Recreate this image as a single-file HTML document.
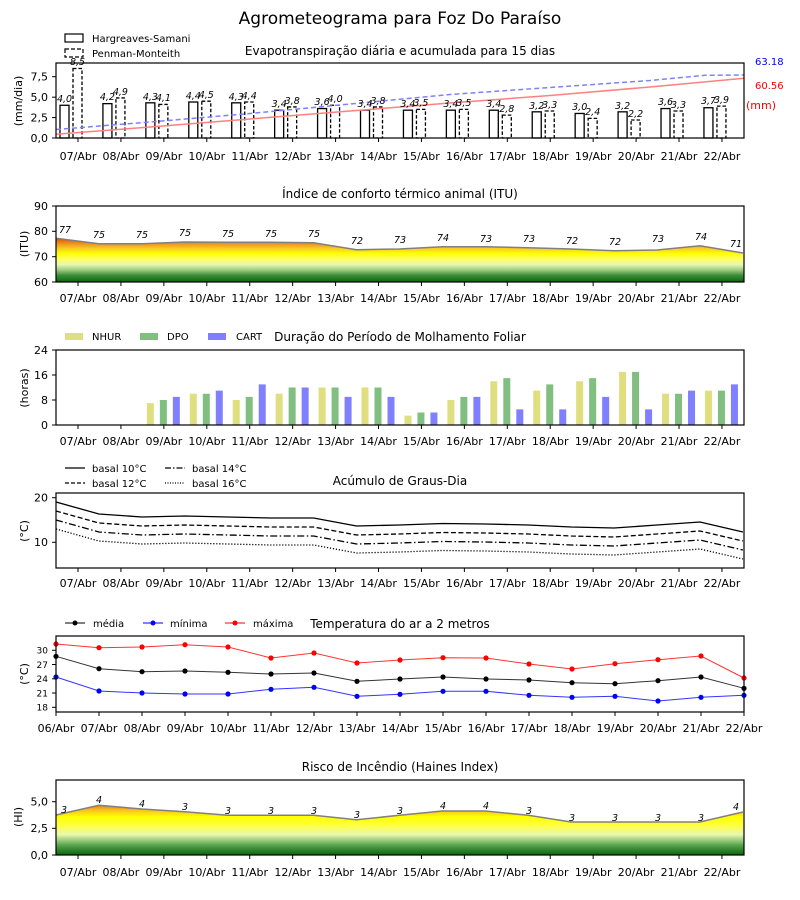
<!DOCTYPE html>
<html><head><meta charset="utf-8">
<style>
html,body{margin:0;padding:0;background:#fff;}
svg{display:block;font-family:"DejaVu Sans","Liberation Sans",sans-serif;}
.tk{font-size:11px;fill:#000;}
.tt{font-size:12px;fill:#000;}
.vl{font-size:9.5px;font-style:italic;fill:#000;}
.lg{font-size:10px;fill:#000;}
</style></head><body>
<svg id="s" width="800" height="900" viewBox="0 0 800 900" xmlns="http://www.w3.org/2000/svg">
<defs>
<linearGradient id="gITU" gradientUnits="userSpaceOnUse" x1="0" y1="282" x2="0" y2="236">
<stop offset="0" stop-color="#0a640a"/><stop offset="0.15" stop-color="#3f8f3a"/><stop offset="0.26" stop-color="#9ccc80"/><stop offset="0.38" stop-color="#e8f8b0"/><stop offset="0.5" stop-color="#ffff60"/><stop offset="0.62" stop-color="#ffff00"/><stop offset="0.72" stop-color="#f8d020"/><stop offset="0.82" stop-color="#f09a20"/><stop offset="0.9" stop-color="#e07010"/><stop offset="1" stop-color="#cc1000"/>
</linearGradient>
<linearGradient id="gHI" gradientUnits="userSpaceOnUse" x1="0" y1="855" x2="0" y2="804">
<stop offset="0" stop-color="#0a640a"/><stop offset="0.18" stop-color="#50a048"/><stop offset="0.4" stop-color="#e8f8b0"/><stop offset="0.58" stop-color="#ffff40"/><stop offset="0.75" stop-color="#ffff00"/><stop offset="0.88" stop-color="#f8c020"/><stop offset="1" stop-color="#e07010"/>
</linearGradient>
</defs>
<text x="400" y="24" text-anchor="middle" style="font-size:17px">Agrometeograma para Foz Do Paraíso</text>

<!-- Panel 1 -->
<text class="tt" x="400" y="55" text-anchor="middle">Evapotranspiração diária e acumulada para 15 dias</text>
<rect x="65" y="34" width="18" height="8" fill="none" stroke="#000" stroke-width="1.2"/>
<text class="lg" x="92" y="42">Hargreaves-Samani</text>
<rect x="65" y="49" width="18" height="8" fill="none" stroke="#000" stroke-width="1.2" stroke-dasharray="4,2"/>
<text class="lg" x="92" y="57">Penman-Monteith</text>
<g id="p1"></g>
<text class="vl" x="64.5" y="102" text-anchor="middle">4,0</text><text class="vl" x="77.5" y="65" text-anchor="middle">8,5</text>
<text class="vl" x="107.4" y="100" text-anchor="middle">4,2</text><text class="vl" x="120.4" y="95" text-anchor="middle">4,9</text>
<text class="vl" x="150.4" y="100" text-anchor="middle">4,3</text><text class="vl" x="163.4" y="101" text-anchor="middle">4,1</text>
<text class="vl" x="193.3" y="99" text-anchor="middle">4,4</text><text class="vl" x="206.3" y="98" text-anchor="middle">4,5</text>
<text class="vl" x="236.2" y="100" text-anchor="middle">4,3</text><text class="vl" x="249.2" y="99" text-anchor="middle">4,4</text>
<text class="vl" x="279.2" y="107" text-anchor="middle">3,4</text><text class="vl" x="292.2" y="104" text-anchor="middle">3,8</text>
<text class="vl" x="322.1" y="105" text-anchor="middle">3,6</text><text class="vl" x="335.1" y="102" text-anchor="middle">4,0</text>
<text class="vl" x="365" y="107" text-anchor="middle">3,4</text><text class="vl" x="378" y="104" text-anchor="middle">3,8</text>
<text class="vl" x="407.9" y="107" text-anchor="middle">3,4</text><text class="vl" x="420.9" y="106" text-anchor="middle">3,5</text>
<text class="vl" x="450.9" y="107" text-anchor="middle">3,4</text><text class="vl" x="463.9" y="106" text-anchor="middle">3,5</text>
<text class="vl" x="493.8" y="107" text-anchor="middle">3,4</text><text class="vl" x="506.8" y="112" text-anchor="middle">2,8</text>
<text class="vl" x="536.7" y="109" text-anchor="middle">3,2</text><text class="vl" x="549.7" y="108" text-anchor="middle">3,3</text>
<text class="vl" x="579.7" y="110" text-anchor="middle">3,0</text><text class="vl" x="592.7" y="115" text-anchor="middle">2,4</text>
<text class="vl" x="622.6" y="109" text-anchor="middle">3,2</text><text class="vl" x="635.6" y="117" text-anchor="middle">2,2</text>
<text class="vl" x="665.5" y="105" text-anchor="middle">3,6</text><text class="vl" x="678.5" y="108" text-anchor="middle">3,3</text>
<text class="vl" x="708.5" y="104" text-anchor="middle">3,7</text><text class="vl" x="721.5" y="103" text-anchor="middle">3,9</text>
<text x="755" y="65" style="font-size:10px;fill:#0000ff">63.18</text>
<text x="755" y="89" style="font-size:10px;fill:#ff0000">60.56</text>
<text x="746" y="109" style="font-size:11px;fill:#ff0000">(mm)</text>
<text class="tk" x="48" y="80.5" text-anchor="end">7,5</text>
<text class="tk" x="48" y="101" text-anchor="end">5,0</text>
<text class="tk" x="48" y="121.5" text-anchor="end">2,5</text>
<text class="tk" x="48" y="142" text-anchor="end">0,0</text>
<text class="tk" transform="translate(22,101) rotate(-90)" text-anchor="middle">(mm/dia)</text>

<!-- Panel 2 -->
<text class="tt" x="400" y="198" text-anchor="middle">Índice de conforto térmico animal (ITU)</text>
<g id="p2"></g>
<text class="tk" x="48" y="210" text-anchor="end">90</text>
<text class="tk" x="48" y="235" text-anchor="end">80</text>
<text class="tk" x="48" y="260.5" text-anchor="end">70</text>
<text class="tk" x="48" y="286" text-anchor="end">60</text>
<text class="tk" transform="translate(28,244) rotate(-90)" text-anchor="middle">(ITU)</text>
<text class="vl" x="65" y="233" text-anchor="middle">77</text>
<text class="vl" x="99" y="238" text-anchor="middle">75</text>
<text class="vl" x="142" y="238" text-anchor="middle">75</text>
<text class="vl" x="185" y="236" text-anchor="middle">75</text>
<text class="vl" x="228" y="237" text-anchor="middle">75</text>
<text class="vl" x="271" y="237" text-anchor="middle">75</text>
<text class="vl" x="314" y="237" text-anchor="middle">75</text>
<text class="vl" x="357" y="244" text-anchor="middle">72</text>
<text class="vl" x="400" y="243" text-anchor="middle">73</text>
<text class="vl" x="443" y="241" text-anchor="middle">74</text>
<text class="vl" x="486" y="242" text-anchor="middle">73</text>
<text class="vl" x="529" y="242" text-anchor="middle">73</text>
<text class="vl" x="572" y="244" text-anchor="middle">72</text>
<text class="vl" x="615" y="245" text-anchor="middle">72</text>
<text class="vl" x="658" y="242" text-anchor="middle">73</text>
<text class="vl" x="701" y="240" text-anchor="middle">74</text>
<text class="vl" x="736" y="247" text-anchor="middle">71</text>

<!-- Panel 3 -->
<rect x="65" y="333" width="18" height="7" fill="#dfdf80"/><text class="lg" x="92" y="340">NHUR</text>
<rect x="140" y="333" width="18" height="7" fill="#80bf80"/><text class="lg" x="167" y="340">DPO</text>
<rect x="208" y="333" width="18" height="7" fill="#8080ff"/><text class="lg" x="236" y="340">CART</text>
<text class="tt" x="400" y="341" text-anchor="middle">Duração do Período de Molhamento Foliar</text>
<g id="p3"></g>
<text class="tk" x="48" y="354" text-anchor="end">24</text>
<text class="tk" x="48" y="379" text-anchor="end">16</text>
<text class="tk" x="48" y="404" text-anchor="end">8</text>
<text class="tk" x="48" y="429" text-anchor="end">0</text>
<text class="tk" transform="translate(28,388) rotate(-90)" text-anchor="middle">(horas)</text>

<!-- Panel 4 -->
<line x1="65" y1="468" x2="85" y2="468" stroke="#000" stroke-width="1.3"/><text class="lg" x="92" y="472">basal 10°C</text>
<line x1="65" y1="483" x2="85" y2="483" stroke="#000" stroke-width="1.3" stroke-dasharray="4,2"/><text class="lg" x="92" y="487">basal 12°C</text>
<line x1="165" y1="468" x2="185" y2="468" stroke="#000" stroke-width="1.3" stroke-dasharray="6,2,1.5,2"/><text class="lg" x="192" y="472">basal 14°C</text>
<line x1="165" y1="483" x2="185" y2="483" stroke="#000" stroke-width="1.3" stroke-dasharray="1,1.5"/><text class="lg" x="192" y="487">basal 16°C</text>
<text class="tt" x="400" y="485" text-anchor="middle">Acúmulo de Graus-Dia</text>
<g id="p4"></g>
<text class="tk" x="48" y="501.5" text-anchor="end">20</text>
<text class="tk" x="48" y="546" text-anchor="end">10</text>
<text class="tk" transform="translate(28,531) rotate(-90)" text-anchor="middle">(°C)</text>

<!-- Panel 5 -->
<line x1="65" y1="623" x2="85" y2="623" stroke="#000"/><circle cx="75" cy="623" r="2.5"/><text class="lg" x="93" y="627">média</text>
<line x1="143" y1="623" x2="163" y2="623" stroke="#0000ff"/><circle cx="153" cy="623" r="2.5" fill="#0000ff"/><text class="lg" x="170" y="627">mínima</text>
<line x1="225" y1="623" x2="245" y2="623" stroke="#ff0000"/><circle cx="235" cy="623" r="2.5" fill="#ff0000"/><text class="lg" x="253" y="627">máxima</text>
<text class="tt" x="400" y="628" text-anchor="middle">Temperatura do ar a 2 metros</text>
<g id="p5"></g>
<text x="48" y="653.5" text-anchor="end" style="font-size:9px">30</text>
<text x="48" y="667.8" text-anchor="end" style="font-size:9px">27</text>
<text x="48" y="682" text-anchor="end" style="font-size:9px">24</text>
<text x="48" y="696.3" text-anchor="end" style="font-size:9px">21</text>
<text x="48" y="710.5" text-anchor="end" style="font-size:9px">18</text>
<text class="tk" transform="translate(28,674) rotate(-90)" text-anchor="middle">(°C)</text>
<g class="tk" text-anchor="middle">
<text x="56" y="732">06/Abr</text><text x="99" y="732">07/Abr</text><text x="142" y="732">08/Abr</text><text x="185" y="732">09/Abr</text><text x="228" y="732">10/Abr</text><text x="271" y="732">11/Abr</text><text x="314" y="732">12/Abr</text><text x="357" y="732">13/Abr</text><text x="400" y="732">14/Abr</text><text x="443" y="732">15/Abr</text><text x="486" y="732">16/Abr</text><text x="529" y="732">17/Abr</text><text x="572" y="732">18/Abr</text><text x="615" y="732">19/Abr</text><text x="658" y="732">20/Abr</text><text x="701" y="732">21/Abr</text><text x="744" y="732">22/Abr</text>
</g>

<!-- Panel 6 -->
<text class="tt" x="400" y="771" text-anchor="middle">Risco de Incêndio (Haines Index)</text>
<g id="p6"></g>
<text class="tk" x="48" y="805.5" text-anchor="end">5,0</text>
<text class="tk" x="48" y="832" text-anchor="end">2,5</text>
<text class="tk" x="48" y="859" text-anchor="end">0,0</text>
<text class="tk" transform="translate(22,817) rotate(-90)" text-anchor="middle">(HI)</text>
<text class="vl" x="64" y="813" text-anchor="middle">3</text>
<text class="vl" x="99" y="803" text-anchor="middle">4</text>
<text class="vl" x="142" y="807" text-anchor="middle">4</text>
<text class="vl" x="185" y="810" text-anchor="middle">3</text>
<text class="vl" x="228" y="814" text-anchor="middle">3</text>
<text class="vl" x="271" y="814" text-anchor="middle">3</text>
<text class="vl" x="314" y="814" text-anchor="middle">3</text>
<text class="vl" x="357" y="818" text-anchor="middle">3</text>
<text class="vl" x="400" y="814" text-anchor="middle">3</text>
<text class="vl" x="443" y="809" text-anchor="middle">4</text>
<text class="vl" x="486" y="809" text-anchor="middle">4</text>
<text class="vl" x="529" y="814" text-anchor="middle">3</text>
<text class="vl" x="572" y="821" text-anchor="middle">3</text>
<text class="vl" x="615" y="821" text-anchor="middle">3</text>
<text class="vl" x="658" y="821" text-anchor="middle">3</text>
<text class="vl" x="701" y="821" text-anchor="middle">3</text>
<text class="vl" x="736" y="810" text-anchor="middle">4</text>

<!-- x tick labels (07..22) for panels 1,2,3,4,6 -->
<g class="tk" text-anchor="middle">
<text x="78" y="160">07/Abr</text><text x="120.9" y="160">08/Abr</text><text x="163.9" y="160">09/Abr</text><text x="206.8" y="160">10/Abr</text><text x="249.7" y="160">11/Abr</text><text x="292.7" y="160">12/Abr</text><text x="335.6" y="160">13/Abr</text><text x="378.5" y="160">14/Abr</text><text x="421.4" y="160">15/Abr</text><text x="464.4" y="160">16/Abr</text><text x="507.3" y="160">17/Abr</text><text x="550.2" y="160">18/Abr</text><text x="593.2" y="160">19/Abr</text><text x="636.1" y="160">20/Abr</text><text x="679" y="160">21/Abr</text><text x="722" y="160">22/Abr</text>
</g>
<g class="tk" text-anchor="middle">
<text x="78" y="302">07/Abr</text><text x="120.9" y="302">08/Abr</text><text x="163.9" y="302">09/Abr</text><text x="206.8" y="302">10/Abr</text><text x="249.7" y="302">11/Abr</text><text x="292.7" y="302">12/Abr</text><text x="335.6" y="302">13/Abr</text><text x="378.5" y="302">14/Abr</text><text x="421.4" y="302">15/Abr</text><text x="464.4" y="302">16/Abr</text><text x="507.3" y="302">17/Abr</text><text x="550.2" y="302">18/Abr</text><text x="593.2" y="302">19/Abr</text><text x="636.1" y="302">20/Abr</text><text x="679" y="302">21/Abr</text><text x="722" y="302">22/Abr</text>
</g>
<g class="tk" text-anchor="middle">
<text x="78" y="445">07/Abr</text><text x="120.9" y="445">08/Abr</text><text x="163.9" y="445">09/Abr</text><text x="206.8" y="445">10/Abr</text><text x="249.7" y="445">11/Abr</text><text x="292.7" y="445">12/Abr</text><text x="335.6" y="445">13/Abr</text><text x="378.5" y="445">14/Abr</text><text x="421.4" y="445">15/Abr</text><text x="464.4" y="445">16/Abr</text><text x="507.3" y="445">17/Abr</text><text x="550.2" y="445">18/Abr</text><text x="593.2" y="445">19/Abr</text><text x="636.1" y="445">20/Abr</text><text x="679" y="445">21/Abr</text><text x="722" y="445">22/Abr</text>
</g>
<g class="tk" text-anchor="middle">
<text x="78" y="587">07/Abr</text><text x="120.9" y="587">08/Abr</text><text x="163.9" y="587">09/Abr</text><text x="206.8" y="587">10/Abr</text><text x="249.7" y="587">11/Abr</text><text x="292.7" y="587">12/Abr</text><text x="335.6" y="587">13/Abr</text><text x="378.5" y="587">14/Abr</text><text x="421.4" y="587">15/Abr</text><text x="464.4" y="587">16/Abr</text><text x="507.3" y="587">17/Abr</text><text x="550.2" y="587">18/Abr</text><text x="593.2" y="587">19/Abr</text><text x="636.1" y="587">20/Abr</text><text x="679" y="587">21/Abr</text><text x="722" y="587">22/Abr</text>
</g>
<g class="tk" text-anchor="middle">
<text x="78" y="876">07/Abr</text><text x="120.9" y="876">08/Abr</text><text x="163.9" y="876">09/Abr</text><text x="206.8" y="876">10/Abr</text><text x="249.7" y="876">11/Abr</text><text x="292.7" y="876">12/Abr</text><text x="335.6" y="876">13/Abr</text><text x="378.5" y="876">14/Abr</text><text x="421.4" y="876">15/Abr</text><text x="464.4" y="876">16/Abr</text><text x="507.3" y="876">17/Abr</text><text x="550.2" y="876">18/Abr</text><text x="593.2" y="876">19/Abr</text><text x="636.1" y="876">20/Abr</text><text x="679" y="876">21/Abr</text><text x="722" y="876">22/Abr</text>
</g>
</svg>
<script>
(function(){
var NS="http://www.w3.org/2000/svg";
function el(p,t,a){var e=document.createElementNS(NS,t);for(var k in a)e.setAttribute(k,a[k]);document.getElementById(p).appendChild(e);return e;}
var T=[],K=[],T5=[];
for(var i=0;i<16;i++)T.push(78+42.93*i);
for(var k=0;k<17;k++){K.push(56+42.93*k);T5.push(56+43*k);}
function frame(p,top,bot){el(p,"rect",{x:56,y:top,width:688,height:bot-top,fill:"none",stroke:"#000","stroke-width":1.2});}
function xt(p,bot,arr){arr.forEach(function(x){el(p,"line",{x1:x,y1:bot,x2:x,y2:bot+4,stroke:"#000"});});}
function yt(p,ys){ys.forEach(function(y){el(p,"line",{x1:52,y1:y,x2:56,y2:y,stroke:"#000"});});}
function pl(p,xs,ys,a){var s=xs.map(function(x,i){return x.toFixed(1)+","+ys[i].toFixed(1);}).join(" ");a.points=s;a.fill=a.fill||"none";return el(p,"polyline",a);}
// Panel 1
var HS=[4.0,4.2,4.3,4.4,4.3,3.4,3.6,3.4,3.4,3.4,3.4,3.2,3.0,3.2,3.6,3.7],PM=[8.5,4.9,4.1,4.5,4.4,3.8,4.0,3.8,3.5,3.5,2.8,3.3,2.4,2.2,3.3,3.9];
T.forEach(function(t,i){var h=HS[i]*8.18;el("p1","rect",{x:t-18,y:138-h,width:9,height:h,fill:"none",stroke:"#000","stroke-width":1.3});
var h2=PM[i]*8.18;el("p1","rect",{x:t-5,y:138-h2,width:9,height:h2,fill:"none",stroke:"#000","stroke-width":1.3,"stroke-dasharray":"3.5,2"});});
pl("p1",[56,150,250,350,450,550,650,705,744],[129.5,122,113.5,104,94.5,87.5,80.5,75.3,75],{stroke:"#8080ff","stroke-width":1.5,"stroke-dasharray":"5,3"});
pl("p1",[56,150,250,350,450,550,650,744],[134.3,127,119,111,103,95.5,87,78.3],{stroke:"#ff8080","stroke-width":1.5});
frame("p1",63,138);xt("p1",138,T);yt("p1",[76.7,97.2,117.6,138]);
// Panel 2
var IY=[238.3,243.7,243.7,242,242.3,242.3,242.7,249.7,249,246.7,246.7,247.7,249,250.7,250,245.7,253];
var pts=K.map(function(x,i){return x.toFixed(1)+","+IY[i];}).join(" ")+" 744,282 56,282";
el("p2","polygon",{points:pts,fill:"url(#gITU)"});
pl("p2",K,IY,{stroke:"#808080","stroke-width":1.5});
frame("p2",206,282);xt("p2",282,T);yt("p2",[206,231.3,256.7,282]);
// Panel 3
var N=[7,10,8,10,12,12,3,8,14,11,14,17,10,11],D=[8,10,9,12,12,12,4,9,15,13,15,17,10,11],C=[9,11,13,12,9,9,4,9,5,5,9,5,11,13];
for(var j=0;j<14;j++){var t=T[j+2];
[[N[j],-17,"#dfdf80"],[D[j],-4,"#80bf80"],[C[j],9,"#8080ff"]].forEach(function(b){var h=b[0]*3.125;el("p3","rect",{x:t+b[1],y:425-h,width:7,height:h,fill:b[2]});});}
frame("p3",350,425);xt("p3",425,T);yt("p3",[350,375,400,425]);
// Panel 4
var B=[502,514,517,516,517,518,518,526,525,523.5,524,525,527,528,525,522,532];
var sty=[{},{"stroke-dasharray":"5,2.5"},{"stroke-dasharray":"7,2.5,1.5,2.5"},{"stroke-dasharray":"1.2,1.8"}];
sty.forEach(function(s,n){var ys=B.map(function(y){return y+9*n*(1-0.0*n);});var a={stroke:"#000","stroke-width":1.3};for(var q in s)a[q]=s[q];pl("p4",K,ys,a);});
frame("p4",493,568);xt("p4",568,T);yt("p4",[497.7,542.3]);
// Panel 5
var MX=[644,647.7,647,644.7,647,658,653,663,660,657.7,658,664,669,663.7,659.7,656,678];
var MD=[656.3,668.7,671.7,671,672.3,674,673,681.3,679,677,679,680,682.7,683.7,680.7,677,688.3];
var MN=[677,691,693,694,694,689.3,687.3,696.3,694.3,691.3,691.3,695.3,697.3,696.3,701,697.3,695.3];
[[MX,"#ff0000"],[MD,"#000000"],[MN,"#0000ff"]].forEach(function(s){pl("p5",T5,s[0],{stroke:s[1],"stroke-width":1,"stroke-opacity":0.8});T5.forEach(function(x,i){el("p5","circle",{cx:x,cy:s[0][i],r:2.6,fill:s[1]});});});
frame("p5",636,712);xt("p5",712,T5);yt("p5",[650.3,664.5,678.8,693,707.3]);
// Panel 6
var HY=[815,805.3,809,811.7,815.3,815.3,815.3,819.7,815.3,811,811,815.3,822,822,822,822,812];
var pts6=K.map(function(x,i){return x.toFixed(1)+","+HY[i];}).join(" ")+" 744,855 56,855";
el("p6","polygon",{points:pts6,fill:"url(#gHI)"});
pl("p6",K,HY,{stroke:"#808080","stroke-width":1.5});
frame("p6",780,855);xt("p6",855,T);yt("p6",[801.7,828.3,855]);
})();
</script>
</body></html>
